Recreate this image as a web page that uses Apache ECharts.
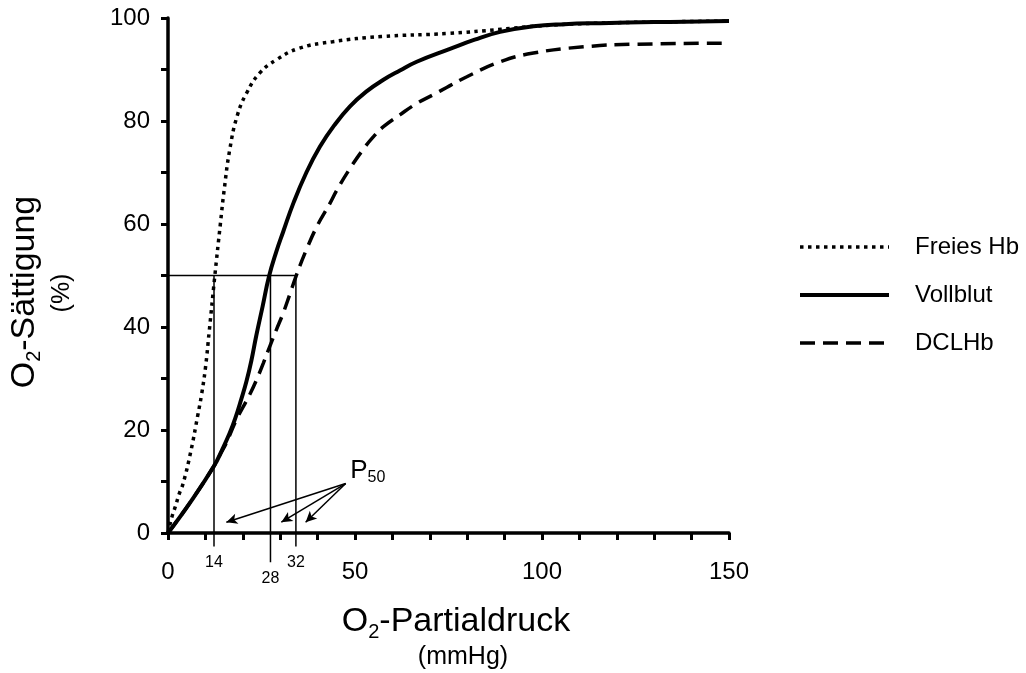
<!DOCTYPE html>
<html>
<head>
<meta charset="utf-8">
<script src="https://cdn.jsdelivr.net/npm/echarts/dist/echarts.min.js"></script>
<style>
  html, body { margin: 0; background: #fff; }
  #chart { width: 1026px; height: 673px; }
</style>
</head>
<body>
<div id="chart"></div>
<script>
// O2 partial pressure (mmHg) vs. saturation (%)
const freiesX = [0, 1, 2, 3, 4, 6, 8, 9, 10, 11, 12.5, 14, 15, 16.5, 18.5, 21, 24.5, 29, 35, 44, 57, 75, 89, 98, 115, 150];
const freiesY = [0, 3, 5.2, 7.6, 9.5, 15.5, 23, 27, 32, 39, 49.8, 60, 66.5, 74.4, 81, 85.4, 89.3, 91.9, 94.1, 95.4, 96.4, 97.0, 97.8, 98.4, 99.0, 99.4];

const vollX = [0, 6, 12.3, 14.5, 16.5, 18, 19.6, 21, 22.3, 23.6, 25.3, 27, 28.9, 30.8, 33.6, 37, 40.6, 44.5, 48.6, 53, 57.6, 62, 66.5, 75.4, 82, 88.8, 97.7, 106, 115.6, 130, 150];
const vollY = [0, 6, 13, 16.2, 19.4, 22.3, 26, 29.5, 33.5, 38.3, 44, 49.8, 54.5, 58.5, 64.2, 70, 75, 79.2, 82.8, 85.7, 88, 89.8, 91.5, 94, 95.8, 97.3, 98.4, 98.8, 99.0, 99.2, 99.4];

const dclX = [0, 6, 12.3, 14, 15.6, 18.3, 21.8, 23.6, 25.5, 27.2, 29, 30.8, 32.5, 34.2, 37, 40, 43.3, 45.1, 48.5, 52.2, 55, 57.6, 62, 66.5, 70.9, 74.5, 79.9, 88.8, 97.7, 111.1, 124.5, 150];
const dclY = [0, 6, 13, 15.3, 17.5, 22, 26.8, 29.6, 33, 36.2, 39.5, 42.7, 46.2, 49.8, 55, 59.8, 64, 66.5, 70.6, 74.5, 77, 78.9, 81.2, 83.4, 85.1, 86.5, 88.6, 91.5, 93.2, 94.4, 94.9, 95.1];

// P50 markers
const p50Level = 50;
const p50X = [12.3, 27.4, 34.2];
const p50Labels = ['14', '28', '32'];
const p50LineBottom = [-2.6, -5.7, -2.6];
const arrowFrom = [47.5, 9.6];
const arrowTipX = [15.6, 30.3, 36.8];
const arrowTipY = 2.1;
const p50TextPos = [48.6, 12.1];

const xTicks = { min: 0, max: 150, step: 10, labelEvery: 50 };
const yTicks = { min: 0, max: 100, step: 10, labelEvery: 20 };

const FONT = 'Liberation Sans, Arial, sans-serif';
const pairs = (xs, ys) => xs.map((x, i) => [x, ys[i]]);

const chart = echarts.init(document.getElementById('chart'));

const guideStyle = { color: '#000', width: 1.5, type: 'solid' };
const hiddenDot = { color: 'rgba(0,0,0,0)', opacity: 1 };

const guideSeries = [
  {
    type: 'line',
    data: [[0, p50Level], [Math.max(...p50X), p50Level]],
    symbol: 'none', clip: false, silent: true, lineStyle: guideStyle, z: 1
  },
  ...p50X.map((x, i) => ({
    type: 'line',
    data: [[x, p50Level], [x, p50LineBottom[i]]],
    symbol: 'none', clip: false, silent: true, lineStyle: guideStyle, z: 1
  })),
  {
    type: 'scatter',
    data: p50X.map((x, i) => ({ value: [x, p50LineBottom[i]], label: { formatter: p50Labels[i] } })),
    symbolSize: 1,
    itemStyle: hiddenDot,
    clip: false,
    silent: true,
    label: {
      show: true, position: 'bottom', distance: 8,
      fontSize: 16, color: '#000', fontFamily: FONT
    }
  },
  {
    type: 'scatter',
    data: [p50TextPos],
    symbolSize: 1,
    itemStyle: hiddenDot,
    silent: true,
    label: {
      show: true, position: 'right', distance: 0,
      formatter: '{p|P}{s|50}',
      rich: {
        p: { fontSize: 26, lineHeight: 30, color: '#000', fontFamily: FONT },
        s: { fontSize: 16, lineHeight: 8, verticalAlign: 'bottom', color: '#000', fontFamily: FONT }
      }
    },
    markLine: {
      silent: true,
      symbol: ['none', 'arrow'],
      symbolSize: [8, 11],
      lineStyle: { color: '#000', width: 1.5, type: 'solid' },
      label: { show: false },
      data: arrowTipX.map(x => [{ coord: arrowFrom }, { coord: [x, arrowTipY] }])
    }
  }
];

const option = {
  backgroundColor: '#fff',
  animation: false,
  grid: { left: 168, right: 297, top: 18, bottom: 140, outerBoundsMode: 'none' },
  legend: {
    orient: 'vertical',
    left: 798,
    top: 235,
    padding: 0,
    itemWidth: 89,
    itemHeight: 24,
    itemGap: 24,
    data: ['Freies Hb', 'Vollblut', 'DCLHb'],
    itemStyle: { opacity: 0 },
    lineStyle: { width: 'inherit' },
    textStyle: { fontSize: 24, color: '#000', fontFamily: FONT, padding: [0, 0, 0, 21] }
  },
  xAxis: {
    type: 'value',
    min: xTicks.min, max: xTicks.max, interval: xTicks.step,
    splitLine: { show: false },
    axisLine: { lineStyle: { color: '#000', width: 3.5 } },
    axisTick: { length: 7, lineStyle: { color: '#000', width: 3 } },
    axisLabel: {
      margin: 27, fontSize: 24, color: '#000', fontFamily: FONT,
      formatter: v => (v % xTicks.labelEvery === 0 ? String(v) : '')
    }
  },
  yAxis: {
    type: 'value',
    min: yTicks.min, max: yTicks.max, interval: yTicks.step,
    splitLine: { show: false },
    axisLine: { show: true, lineStyle: { color: '#000', width: 3.5 } },
    axisTick: { show: true, length: 7, lineStyle: { color: '#000', width: 3 } },
    axisLabel: {
      margin: 18, fontSize: 24, color: '#000', fontFamily: FONT,
      formatter: v => (v % yTicks.labelEvery === 0 ? String(v) : '')
    }
  },
  graphic: [
    {
      type: 'text', x: 456, y: 622, silent: true,
      style: {
        text: '{a|O}{s|2}{a|-Partialdruck}',
        align: 'center', verticalAlign: 'middle',
        rich: {
          a: { fontSize: 34, lineHeight: 40, fontFamily: FONT, fill: '#000' },
          s: { fontSize: 20, lineHeight: 18, verticalAlign: 'bottom', fontFamily: FONT, fill: '#000' }
        }
      }
    },
    {
      type: 'text', x: 463, y: 657, silent: true,
      style: { text: '(mmHg)', fontSize: 25, fontFamily: FONT, fill: '#000', align: 'center', verticalAlign: 'middle' }
    },
    {
      type: 'text', x: 24.4, y: 292, rotation: Math.PI / 2, silent: true,
      style: {
        text: '{a|O}{s|2}{a|-Sättigung}',
        align: 'center', verticalAlign: 'middle',
        rich: {
          a: { fontSize: 34, lineHeight: 40, fontFamily: FONT, fill: '#000' },
          s: { fontSize: 20, lineHeight: 18, verticalAlign: 'bottom', fontFamily: FONT, fill: '#000' }
        }
      }
    },
    {
      type: 'text', x: 62, y: 293, rotation: Math.PI / 2, silent: true,
      style: { text: '(%)', fontSize: 25, fontFamily: FONT, fill: '#000', align: 'center', verticalAlign: 'middle' }
    }
  ],
  series: [
    {
      name: 'Freies Hb',
      type: 'line',
      data: pairs(freiesX, freiesY),
      smooth: 0.45,
      symbol: 'none',
      lineStyle: { color: '#000', width: 3.5, type: [3.5, 4.5] },
      itemStyle: { color: '#000' },
      z: 3
    },
    {
      name: 'Vollblut',
      type: 'line',
      data: pairs(vollX, vollY),
      smooth: 0.45,
      symbol: 'none',
      lineStyle: { color: '#000', width: 4 },
      itemStyle: { color: '#000' },
      z: 4
    },
    {
      name: 'DCLHb',
      type: 'line',
      data: pairs(dclX, dclY),
      smooth: 0.45,
      symbol: 'none',
      lineStyle: { color: '#000', width: 3.5, type: [15, 8] },
      itemStyle: { color: '#000' },
      z: 3
    },
    ...guideSeries
  ]
};

chart.setOption(option);
window.addEventListener('resize', () => chart.resize());
</script>
</body>
</html>
